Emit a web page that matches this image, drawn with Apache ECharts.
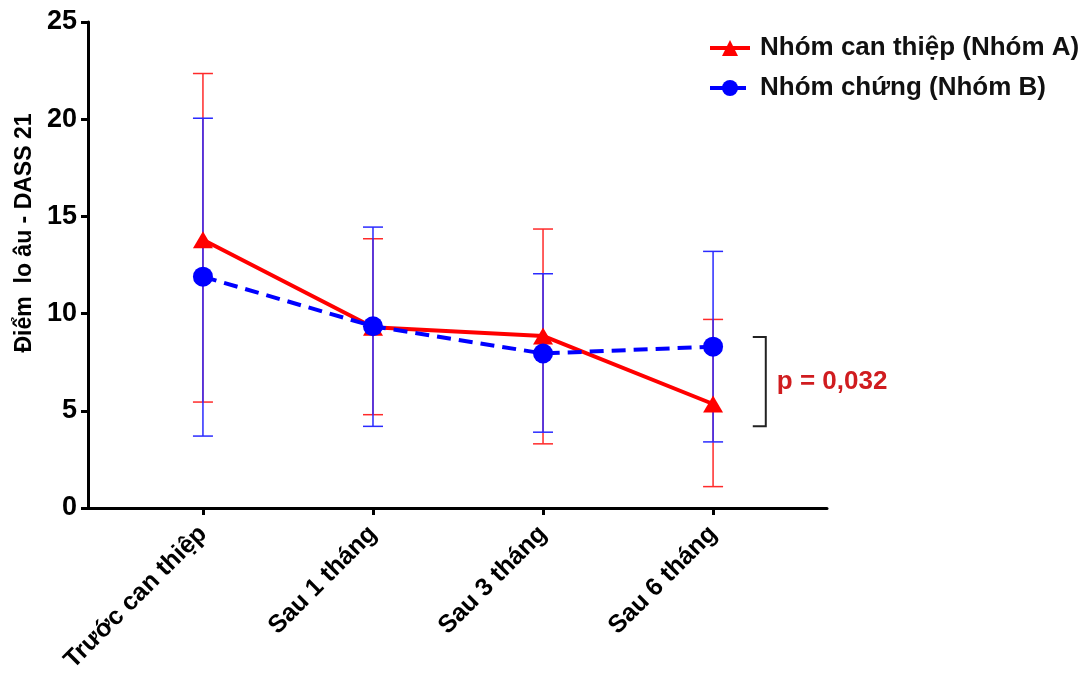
<!DOCTYPE html>
<html>
<head>
<meta charset="utf-8">
<script src="https://cdn.jsdelivr.net/npm/echarts@6/dist/echarts.min.js"></script>
<style>
html,body{margin:0;padding:0;background:#fff;}
#chart{width:1084px;height:677px;}
</style>
</head>
<body>
<div id="chart"></div>
<script>
const categories = ['Trước can thiệp', 'Sau 1 tháng', 'Sau 3 tháng', 'Sau 6 tháng'];
const meanA = [13.8, 9.3, 8.85, 5.35];
const lowA  = [5.45, 4.8, 3.3, 1.1];
const highA = [22.35, 13.85, 14.35, 9.7];
const meanB = [11.9, 9.35, 7.95, 8.3];
const lowB  = [3.7, 4.2, 3.9, 3.4];
const highB = [20.05, 14.45, 12.05, 13.2];
const yTicks = [0, 5, 10, 15, 20, 25];
const nameA = 'Nhóm can thiệp (Nhóm A)';
const nameB = 'Nhóm chứng (Nhóm B)';
const yTitle = 'Điểm  lo âu - DASS 21';
const pLabel = 'p = 0,032';
const bracketX = [3.31];
const bracketTop = [8.8];
const bracketBottom = [4.2];

const FONT = 'Arial, "Liberation Sans", sans-serif';
const catIdx = categories.map((c, i) => i);

function errRender(color) {
  return function (params, api) {
    const x = api.value(0), lo = api.value(1), hi = api.value(2);
    const p1 = api.coord([x, hi]), p2 = api.coord([x, lo]);
    const hw = 10;
    const st = { stroke: color, lineWidth: 1.5 };
    return {
      type: 'group',
      children: [
        { type: 'line', shape: { x1: p1[0], y1: p1[1], x2: p2[0], y2: p2[1] }, style: st },
        { type: 'line', shape: { x1: p1[0] - hw, y1: p1[1], x2: p1[0] + hw, y2: p1[1] }, style: st },
        { type: 'line', shape: { x1: p2[0] - hw, y1: p2[1], x2: p2[0] + hw, y2: p2[1] }, style: st }
      ]
    };
  };
}

function bracketRender(params, api) {
  const x = api.value(0), top = api.value(1), bot = api.value(2);
  const p1 = api.coord([x, top]), p2 = api.coord([x, bot]);
  const tl = 13;
  return {
    type: 'group',
    children: [
      { type: 'polyline', shape: { points: [[p1[0] - tl, p1[1]], [p1[0], p1[1]], [p2[0], p2[1]], [p2[0] - tl, p2[1]]] },
        style: { stroke: '#222', lineWidth: 2, fill: null } },
      { type: 'text', x: p1[0] + 11, y: (p1[1] + p2[1]) / 2,
        style: { text: pLabel, fill: '#d01c1f', font: 'bold 26px ' + FONT, textAlign: 'left', textVerticalAlign: 'middle' } }
    ]
  };
}

const chart = echarts.init(document.getElementById('chart'));
chart.setOption({
  animation: false,
  backgroundColor: '#fff',
  grid: { left: 88, right: 257, top: 22, bottom: 169 },
  legend: {
    data: [nameA, nameB],
    orient: 'vertical',
    left: 703,
    top: 30,
    itemWidth: 40,
    itemHeight: 20,
    itemGap: 14,
    lineStyle: { width: 4 },
    textStyle: { fontFamily: FONT, fontWeight: 'bold', fontSize: 26, color: '#111', padding: [0, 0, 0, 5] }
  },
  xAxis: {
    type: 'value',
    min: -0.676,
    max: 3.67,
    splitLine: { show: false },
    axisLine: { lineStyle: { color: '#000', width: 3 } },
    axisTick: { show: true, length: 7, lineStyle: { color: '#000', width: 3 }, customValues: catIdx },
    axisLabel: {
      customValues: catIdx,
      rotate: 45,
      margin: 22,
      fontFamily: FONT, fontWeight: 'bold', fontSize: 25, color: '#000',
      formatter: v => categories[Math.round(v)] || ''
    }
  },
  yAxis: {
    type: 'value',
    min: 0, max: 25, interval: 5,
    name: yTitle,
    nameLocation: 'middle',
    nameGap: 50,
    nameTextStyle: { fontFamily: FONT, fontWeight: 'bold', fontSize: 23, color: '#000', padding: [0, 0, 0, 64] },
    splitLine: { show: false },
    axisLine: { show: true, onZero: false, lineStyle: { color: '#000', width: 3 } },
    axisTick: { show: true, length: 7, lineStyle: { color: '#000', width: 3 } },
    axisLabel: { margin: 11, fontFamily: FONT, fontWeight: 'bold', fontSize: 27, color: '#000' }
  },
  series: [
    {
      type: 'custom', name: 'errA', renderItem: errRender('#ff2a2a'), z: 2,
      data: catIdx.map(i => [i, lowA[i], highA[i]]), silent: true
    },
    {
      type: 'custom', name: 'errB', renderItem: errRender('#2a2aff'), z: 3,
      data: catIdx.map(i => [i, lowB[i], highB[i]]), silent: true
    },
    {
      type: 'line', name: nameA, z: 4,
      data: catIdx.map(i => [i, meanA[i]]),
      symbol: 'triangle', symbolSize: [20, 17],
      itemStyle: { color: '#ff0000' },
      lineStyle: { color: '#ff0000', width: 4 }
    },
    {
      type: 'line', name: nameB, z: 5,
      data: catIdx.map(i => [i, meanB[i]]),
      symbol: 'circle', symbolSize: 20,
      itemStyle: { color: '#0000ff' },
      lineStyle: { color: '#0000ff', width: 4, type: [14, 8] }
    },
    {
      type: 'custom', name: 'bracket', renderItem: bracketRender, z: 6, silent: true,
      data: bracketX.map((x, i) => [x, bracketTop[i], bracketBottom[i]])
    }
  ]
});
</script>
</body>
</html>
